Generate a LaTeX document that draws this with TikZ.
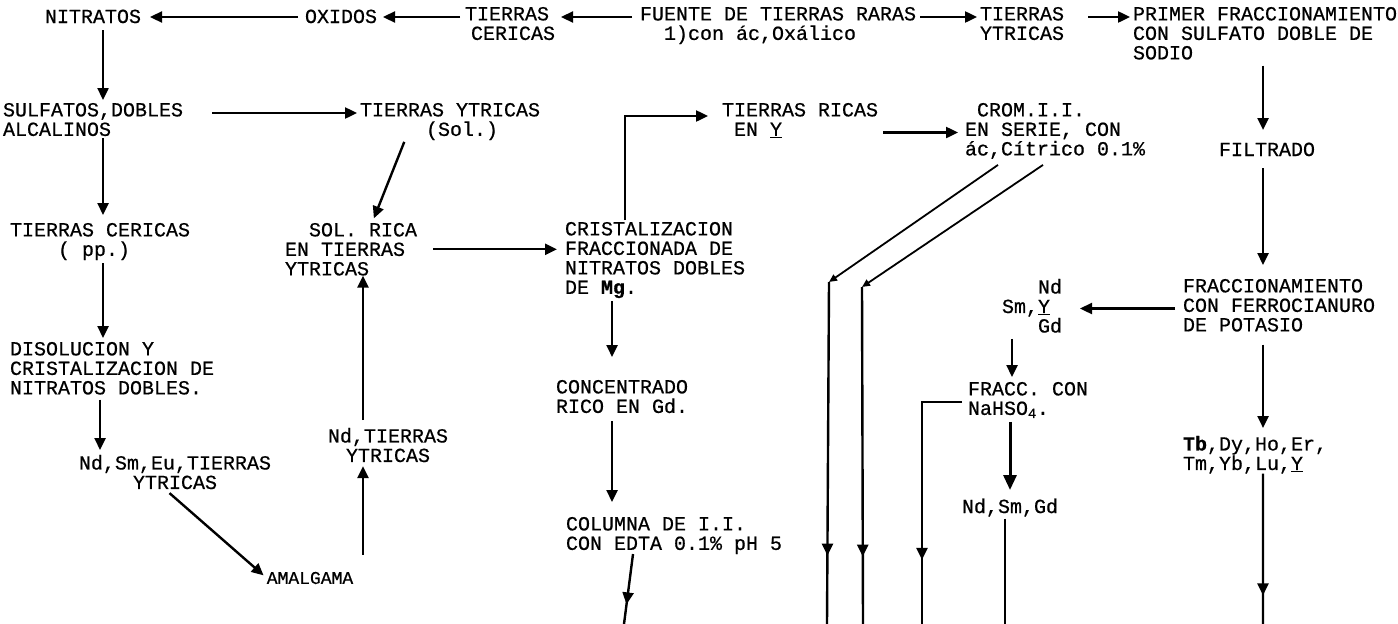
\documentclass[tikz,border=0pt]{standalone}
\usepackage{fontspec}
\newfontfamily\tw{Liberation Mono}[FakeBold=0.6]
\usetikzlibrary{arrows.meta,decorations.markings}
\begin{document}
\begin{tikzpicture}[x=1pt,y=-1pt,
  tx/.style={inner sep=0pt, outer sep=0pt, anchor=north west, align=left,
    font=\tw\fontsize{20}{19.5}\selectfont, execute at begin node={\rule{0pt}{16pt}}},
  txc/.style={tx, anchor=north, align=center},
  ar/.style={line width=2.4pt, -{Triangle[length=12pt,width=11pt]}},
  bigar/.style={line width=3pt, -{Triangle[length=15pt,width=13pt]}},
  ln/.style={line width=2.4pt},
  thinln/.style={line width=1.8pt, -{Triangle[length=8pt,width=7pt]}},
  midar/.style={postaction={decorate}, decoration={markings,
    mark=at position #1 with {\arrow{Triangle[length=12pt,width=11pt]}}}},
]
\fill[white] (0,0) rectangle (1398,624);
\useasboundingbox (0,0) rectangle (1398,624);

% ---- row 1
\node[tx] (nitr) at (45,7) {NITRATOS};
\node[tx] (oxid) at (305,7) {OXIDOS};
\node[tx] (tcer) at (465,7) {TIERRAS\\\hspace*{6pt}CERICAS};
\node[tx] (fuen) at (640,7) {FUENTE DE TIERRAS RARAS\\\hspace*{24pt}1)con ác,Oxálico};
\node[tx] (tytr) at (980,7) {TIERRAS\\YTRICAS};
\node[tx] (prim) at (1133,7) {PRIMER FRACCIONAMIENTO\\CON SULFATO DOBLE DE\\SODIO};

% ---- row 2
\node[tx] (sulf) at (3,103) {SULFATOS,DOBLES\\ALCALINOS};
\node[tx] (tsol) at (360,103) {TIERRAS YTRICAS\\\hspace*{66pt}(Sol.)};
\node[tx] (tric) at (722,103) {TIERRAS RICAS\\\hspace*{12pt}EN \underline{Y}};
\node[tx] (crom) at (965,103) {\hspace*{12pt}CROM.I.I.\\EN SERIE, CON\\ác,Cítrico 0.1\%};
\node[txc] (filt) at (1267,140) {FILTRADO};

% ---- left and middle
\node[tx] (tcpp) at (10,223) {TIERRAS CERICAS\\\hspace*{48pt}( pp.)};
\node[tx] (disol) at (10,342) {DISOLUCION Y\\CRISTALIZACION DE\\NITRATOS DOBLES.};
\node[txc] (ndsm) at (175,455) {Nd,Sm,Eu,TIERRAS\\YTRICAS};
\node[inner sep=0pt, font=\tw\fontsize{18}{18}\selectfont] (amal) at (310,578) {AMALGAMA};
\node[txc] (ndt) at (388,428) {Nd,TIERRAS\\YTRICAS};
\node[tx] (srica) at (285,223) {\hspace*{24pt}SOL. RICA\\EN TIERRAS\\YTRICAS};
\node[tx] (cris) at (565,222) {CRISTALIZACION\\FRACCIONADA DE\\NITRATOS DOBLES\\DE \textbf{Mg}.};
\node[tx] (conc) at (556,380) {CONCENTRADO\\RICO EN Gd.};
\node[tx] (colu) at (566,517) {COLUMNA DE I.I.\\CON EDTA 0.1\% pH 5};

% ---- right
\node[tx] (ferro) at (1183,279) {FRACCIONAMIENTO\\CON FERROCIANURO\\DE POTASIO};
\node[tx] (nsy) at (1002,279) {\hspace*{36pt}Nd\\Sm,\underline{Y}\\\hspace*{36pt}Gd};
\node[tx] (fracc) at (968,382) {FRACC. CON\\NaHSO\textsubscript{4}.};
\node[txc] (nsg) at (1010,497) {Nd,Sm,Gd};
\node[tx] (tb) at (1183,436) {\textbf{Tb},Dy,Ho,Er,\\Tm,Yb,Lu,\underline{Y}};

% free ends
\coordinate (v1) at (829,282);
\coordinate (v2) at (862,287);
\coordinate (b1) at (827,624);
\coordinate (b2) at (863,624);
\coordinate (b3) at (922,624);
\coordinate (b4) at (1005,624);
\coordinate (b5) at (1263,624);
\coordinate (b6) at (624,624);

% ---- connectors row 1
\draw[ar, shorten <=7pt, shorten >=9pt] ([yshift=-10pt]oxid.north west) -- ([yshift=-10pt]nitr.north east);
\draw[ar, shorten <=5pt, shorten >=6pt] ([yshift=-10pt]tcer.north west) -- ([yshift=-10pt]oxid.north east);
\draw[ar, shorten <=8pt, shorten >=6pt] ([yshift=-10pt]fuen.north west) -- ([yshift=-10pt]tcer.north east);
\draw[ar, shorten <=4pt, shorten >=3pt] ([yshift=-10pt]fuen.north east) -- ([yshift=-10pt]tytr.north west);
\draw[ar, shorten <=24pt, shorten >=3pt] ([yshift=-10pt]tytr.north east) -- ([yshift=-10pt]prim.north west);

% ---- left column
\draw[ar, shorten <=7pt, shorten >=3pt] ([xshift=10pt]nitr.south) -- ([xshift=10pt]nitr.south |- sulf.north);
\draw[ar, shorten <=2pt, shorten >=8pt] ([xshift=10pt]sulf.south) -- ([xshift=10pt]sulf.south |- tcpp.north);
\draw[ar, shorten <=3pt, shorten >=4pt] ([xshift=3pt]tcpp.south) -- ([xshift=3pt]tcpp.south |- disol.north);
\draw[ar, shorten <=5pt, shorten >=5pt] ([xshift=-12pt]disol.south) -- ([xshift=-12pt]disol.south |- ndsm.north);
\draw[ar, shorten <=6pt, shorten >=4pt] ([xshift=-10pt]ndsm.south) -- (amal.west);
\draw[ar, shorten >=4pt] ([xshift=-25pt,yshift=17pt]ndt.south |- amal.north) -- ([xshift=-25pt]ndt.south);
\draw[ar, shorten <=8pt, shorten >=0pt] ([xshift=-25pt]ndt.north) -- ([xshift=-25pt]ndt.north |- srica.south);
\draw[ar, shorten <=2pt, shorten >=5pt] ([xshift=-45pt]tsol.south) -- ([xshift=21pt]srica.north);
\draw[ar, shorten <=16pt, shorten >=8pt] (srica.east) -- (srica.east -| cris.west);
\draw[ar, shorten <=29pt, shorten >=3pt] ([yshift=-10pt]sulf.north east) -- ([yshift=-10pt]tsol.north west);

% ---- middle
\draw[ar, shorten <=2pt, shorten >=14pt] ([xshift=-30pt]cris.north) |- ([yshift=-13pt]tric.north west);
\draw[ar, shorten <=5pt, shorten >=7pt] ([yshift=-29.5pt]tric.north east) -- ([yshift=-29.5pt]crom.north west);
\draw[ar, shorten <=3pt, shorten >=23pt] ([xshift=-43pt]cris.south) -- ([xshift=-43pt]cris.south |- conc.north);
\draw[ar, shorten <=8pt, shorten >=15pt] ([xshift=-10pt]conc.south) -- ([xshift=-10pt]conc.south |- colu.north);
\draw[ln, midar=0.72] ([xshift=-41pt]colu.south) -- (b6);

% ---- right
\draw[thinln] ([xshift=33pt,yshift=-6pt]crom.south west) -- (v1);
\draw[ln, midar=0.8] (v1) -- (b1);
\draw[thinln] ([xshift=78pt,yshift=-6pt]crom.south west) -- (v2);
\draw[ln, midar=0.8] (v2) -- (b2);
\draw[ar, shorten <=6pt, shorten >=10pt] ([xshift=-2pt]prim.south) -- ([xshift=-2pt]prim.south |- filt.north);
\draw[ar, shorten <=12pt, shorten >=14pt] ([xshift=-4pt]filt.south) -- ([xshift=-4pt]filt.south |- ferro.north);
\draw[ar, shorten <=8pt, shorten >=18pt] ([yshift=-29.5pt]ferro.north west) -- ([yshift=-29.5pt]nsy.north east);
\draw[ar, shorten <=6pt, shorten >=5pt] ([xshift=-20pt]nsy.south) -- ([xshift=-20pt]nsy.south |- fracc.north);
\draw[ln, midar=0.755] ([xshift=-6pt,yshift=-20pt]fracc.north west) -| (b3);
\draw[bigar, shorten <=4pt, shorten >=7pt] ([xshift=-18pt]fracc.south) -- ([xshift=-18pt]fracc.south |- nsg.north);
\draw[ln, shorten <=2pt] ([xshift=-5pt]nsg.south) -- (b4);
\draw[ar, shorten <=13pt, shorten >=8pt] ([xshift=-16pt]ferro.south) -- ([xshift=-16pt]ferro.south |- tb.north);
\draw[ln, midar=0.81] ([xshift=8pt]tb.south) -- (b5);
\end{tikzpicture}
\end{document}
